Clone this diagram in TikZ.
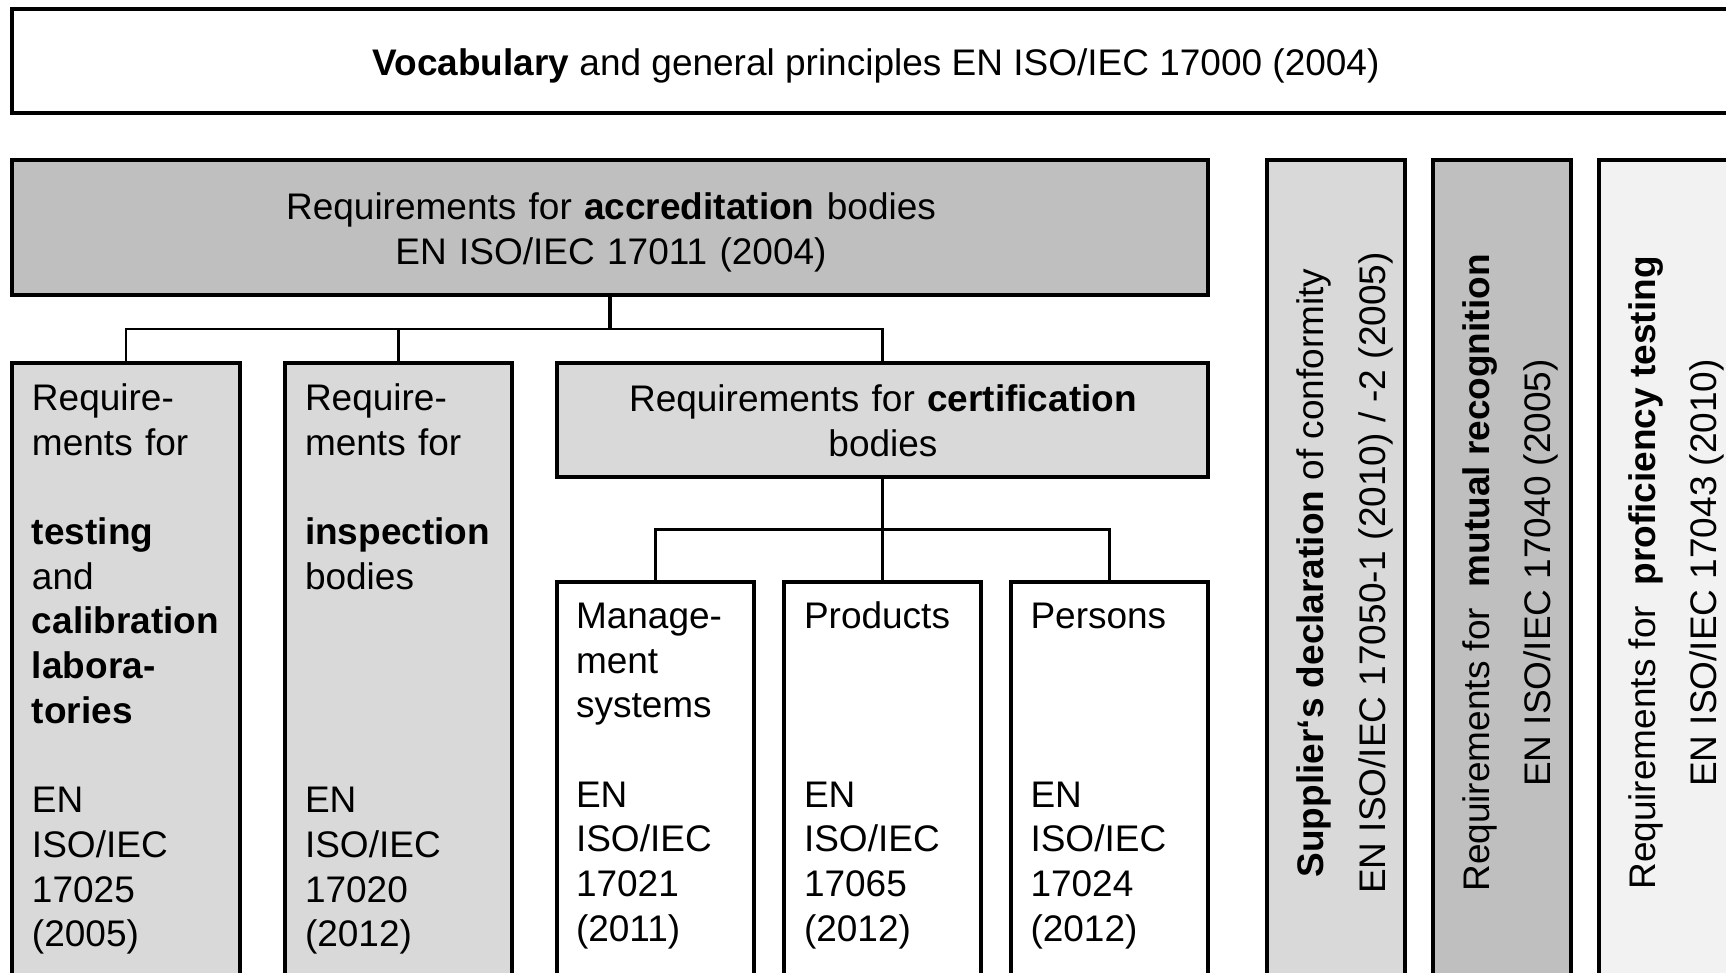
\documentclass[tikz,border=0pt]{standalone}
\usepackage{fontspec}
\setmainfont{Liberation Sans}
\definecolor{gA}{HTML}{BFBFBF}
\definecolor{gB}{HTML}{D9D9D9}
\definecolor{gC}{HTML}{F2F2F2}
\begin{document}
\begin{tikzpicture}[x=0.5pt,y=-0.5pt,
  every node/.style={inner sep=0pt, outer sep=0pt},
  box/.style={draw, line width=1.6pt, rectangle},
  txt/.style={font=\fontsize{18.5pt}{22.35pt}\selectfont},
  conn/.style={line width=1.3pt},
  stem/.style={line width=1.8pt}]
\useasboundingbox (0,0) rectangle (1726,973);
\clip (0,0) rectangle (1726,973);
\fill[white] (0,0) rectangle (1726,973);

% boxes
\node[box, fill=white, minimum width=864pt, minimum height=52pt] (vocab) at (876,61) {};
\node[box, fill=gA, minimum width=598pt, minimum height=67.5pt] (acc) at (610,227.5) {};
\node[box, fill=gB, minimum width=114pt, minimum height=313.5pt] (test) at (126,676.5) {};
\node[box, fill=gB, minimum width=113.5pt, minimum height=313.5pt] (insp) at (398.5,676.5) {};
\node[box, fill=gB, minimum width=325.5pt, minimum height=57pt] (cert) at (882.5,420) {};
\node[box, fill=white, minimum width=98.5pt, minimum height=204pt] (mgmt) at (655.5,786) {};
\node[box, fill=white, minimum width=98.5pt, minimum height=204pt] (prod) at (882.5,786) {};
\node[box, fill=white, minimum width=98.5pt, minimum height=204pt] (pers) at (1109.5,786) {};
\node[box, fill=gB, minimum width=69pt, minimum height=415pt] (supp) at (1336,575) {};
\node[box, fill=gA, minimum width=69pt, minimum height=415pt] (mutu) at (1502,575) {};
\node[box, fill=gC, minimum width=69pt, minimum height=415pt] (prof) at (1668,575) {};

% connectors
\coordinate (j1) at (611,329);
\draw[stem] (acc.south) -- (acc.south |- j1);
\draw[conn] (test.north) -- (test.north |- j1) -- (cert.north |- j1) -- (cert.north);
\draw[conn] (insp.north) -- (insp.north |- j1);
\coordinate (j2) at (883,529.5);
\draw[stem] (cert.south) -- (prod.north);
\draw[conn] (mgmt.north) -- (mgmt.north |- j2) -- (pers.north |- j2) -- (pers.north);

% texts
\node[txt, anchor=base] (vocabT) at (876,76) {\textbf{Vocabulary} and general principles EN ISO/IEC 17000 (2004)};
\node[txt, anchor=base, text width=560pt, align=center] (accT) at (611,219.5) {Requirements for \textbf{accreditation} bodies\\EN ISO/IEC 17011 (2004)};
\node[txt, anchor=base, text width=320pt, align=center] (certT) at (883,412) {Requirements for \textbf{certification}\\bodies};
\node[txt, anchor=base west, text width=105pt, align=left] (testT) at (32,410.4) {Require-\\ments for\\\mbox{}\\\textbf{testing}\\and\\\textbf{calibration}\\\textbf{labora-}\\\textbf{tories}\\\mbox{}\\EN\\ISO/IEC\\17025\\(2005)};
\node[txt, anchor=base west, text width=105pt, align=left] (inspT) at (305,410.4) {Require-\\ments for\\\mbox{}\\\textbf{inspection}\\bodies\\\mbox{}\\\mbox{}\\\mbox{}\\\mbox{}\\EN\\ISO/IEC\\17020\\(2012)};
\node[txt, anchor=base west, text width=92pt, align=left] (mgmtT) at (576,628.4) {Manage-\\ment\\systems\\\mbox{}\\EN\\ISO/IEC\\17021\\(2011)};
\node[txt, anchor=base west, text width=92pt, align=left] (prodT) at (804,628.4) {Products\\\mbox{}\\\mbox{}\\\mbox{}\\EN\\ISO/IEC\\17065\\(2012)};
\node[txt, anchor=base west, text width=92pt, align=left] (persT) at (1030.5,628.4) {Persons\\\mbox{}\\\mbox{}\\\mbox{}\\EN\\ISO/IEC\\17024\\(2012)};

\node[txt, rotate=90, anchor=base] (suppA) at (1323,573) {\textbf{Supplier‘s declaration} of conformity};
\node[txt, rotate=90, anchor=base] (suppB) at (1385,573) {EN ISO/IEC 17050-1 (2010) / -2 (2005)};
\node[txt, rotate=90, anchor=base] (mutuA) at (1489.5,573) {Requirements for~ \textbf{mutual recognition}};
\node[txt, rotate=90, anchor=base] (mutuB) at (1550.5,573) {EN ISO/IEC 17040 (2005)};
\node[txt, rotate=90, anchor=base] (profA) at (1655.5,573) {Requirements for~ \textbf{proficiency testing}};
\node[txt, rotate=90, anchor=base] (profB) at (1716.5,573) {EN ISO/IEC 17043 (2010)};
\end{tikzpicture}
\end{document}
